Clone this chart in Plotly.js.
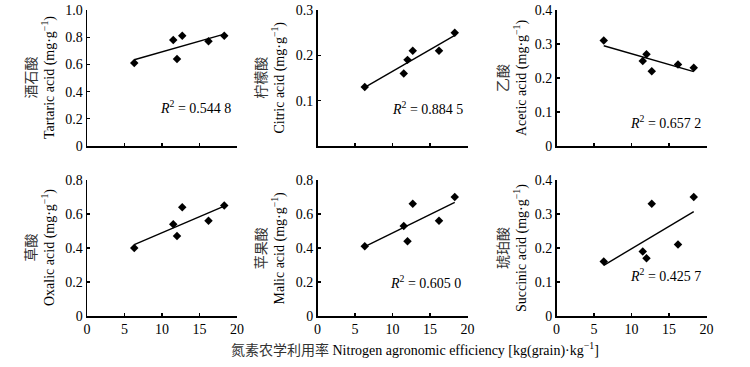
<!DOCTYPE html>
<html>
<head>
<meta charset="utf-8">
<script src="https://cdn.plot.ly/plotly-3.0.1.min.js"></script>
<style>html,body{margin:0;padding:0;background:#fff;}#chart{width:750px;height:367px;}</style>
</head>
<body>
<div id="chart"></div>
<script>
// Nitrogen agronomic efficiency (x) shared by all panels
const nae = [6.3, 11.5, 12.0, 12.7, 16.2, 18.3];

const tartaric = [0.61, 0.78, 0.64, 0.81, 0.77, 0.81];
const citric   = [0.13, 0.16, 0.19, 0.21, 0.21, 0.25];
const acetic   = [0.31, 0.25, 0.27, 0.22, 0.24, 0.23];
const oxalic   = [0.40, 0.54, 0.47, 0.64, 0.56, 0.65];
const malic    = [0.41, 0.53, 0.44, 0.66, 0.56, 0.70];
const succinic = [0.16, 0.19, 0.17, 0.33, 0.21, 0.35];

const panelNames = ["酒石酸", "柠檬酸", "乙酸", "草酸", "苹果酸", "琥珀酸"];
const panelEnglish = ["Tartaric acid", "Citric acid", "Acetic acid", "Oxalic acid", "Malic acid", "Succinic acid"];
const r2Labels = ["0.544 8", "0.884 5", "0.657 2", "0.655 1", "0.605 0", "0.425 7"];
const yMax = [1.0, 0.3, 0.4, 0.8, 0.8, 0.4];
const yTicks = [
  [0, 0.2, 0.4, 0.6, 0.8, 1.0],
  [0.1, 0.2, 0.3],
  [0, 0.1, 0.2, 0.3, 0.4],
  [0, 0.2, 0.4, 0.6, 0.8],
  [0, 0.2, 0.4, 0.6, 0.8],
  [0, 0.1, 0.2, 0.3, 0.4]
];
const yTickText = [
  ["0", "0.2", "0.4", "0.6", "0.8", "1.0"],
  ["0.1", "0.2", "0.3"],
  ["0", "0.1", "0.2", "0.3", "0.4"],
  ["0", "0.2", "0.4", "0.6", "0.8"],
  ["0", "0.2", "0.4", "0.6", "0.8"],
  ["0", "0.1", "0.2", "0.3", "0.4"]
];
const xTicks = [0, 5, 10, 15, 20];
const xTickText = ["0", "5", "10", "15", "20"];
const xTitle = "<span style='color:#333'>氮素农学利用率</span> Nitrogen agronomic efficiency [kg(grain)·kg<sup>−1</sup>]";

const series = [tartaric, citric, acetic, oxalic, malic, succinic];

// ---- layout geometry (pixels) ----
const W = 750, H = 367;
const colPx = [[87, 237], [317.5, 467.5], [556.5, 706.5]];
const rowPx = [[10, 146], [180, 316]];
const titleXPx = [41, 270.5, 513];
const r2Pos = [ // [x data (right anchor), y data]
  [19.5, 0.287], [19.6, 0.084], [19.5, 0.071],
  [20.7, 0.29], [19.4, 0.2], [19.5, 0.12]
];

const FONT = "Liberation Serif, Times New Roman, Noto Sans CJK SC, serif";

function fit(x, y) {
  const n = x.length;
  const mx = x.reduce((a, b) => a + b, 0) / n;
  const my = y.reduce((a, b) => a + b, 0) / n;
  let sxy = 0, sxx = 0;
  for (let i = 0; i < n; i++) { sxy += (x[i] - mx) * (y[i] - my); sxx += (x[i] - mx) ** 2; }
  const b = sxy / sxx, a = my - b * mx;
  const x0 = Math.min(...x), x1 = Math.max(...x);
  return { x: [x0, x1], y: [a + b * x0, a + b * x1] };
}

const data = [];
const layout = {
  width: W, height: H,
  margin: { l: 0, r: 0, t: 0, b: 0 },
  paper_bgcolor: "#fff", plot_bgcolor: "#fff",
  showlegend: false,
  font: { family: FONT, color: "#000", size: 14 },
  annotations: []
};

for (let i = 0; i < 6; i++) {
  const row = Math.floor(i / 3), col = i % 3;
  const k = i + 1;
  const xa = k === 1 ? "x" : "x" + k;
  const ya = k === 1 ? "y" : "y" + k;
  const f = fit(nae, series[i]);
  data.push({
    x: f.x, y: f.y, xaxis: xa, yaxis: ya, mode: "lines", type: "scatter",
    line: { color: "#000", width: 1.4 }, hoverinfo: "skip"
  });
  data.push({
    x: nae, y: series[i], xaxis: xa, yaxis: ya, mode: "markers", type: "scatter",
    marker: { symbol: "diamond", size: 6.5, color: "#000" }
  });
  const axCommon = {
    showline: true, linecolor: "#000", linewidth: 1.5, showgrid: false, zeroline: false,
    ticks: "inside", ticklen: 3, tickwidth: 1.2, tickcolor: "#000",
    tickfont: { family: FONT, size: 14, color: "#000" }, fixedrange: true
  };
  layout["xaxis" + (k === 1 ? "" : k)] = Object.assign({}, axCommon, {
    domain: [colPx[col][0] / W, colPx[col][1] / W],
    anchor: ya, range: [0, 20],
    tickmode: "array", tickvals: xTicks, ticktext: xTickText,
    showticklabels: row === 1
  });
  layout["yaxis" + (k === 1 ? "" : k)] = Object.assign({}, axCommon, {
    domain: [1 - rowPx[row][1] / H, 1 - rowPx[row][0] / H],
    anchor: xa, range: [0, yMax[i]],
    tickmode: "array", tickvals: yTicks[i], ticktext: yTickText[i]
  });
  // y title (two lines, rotated)
  layout.annotations.push({
    xref: "paper", yref: "paper",
    x: titleXPx[col] / W, y: 1 - (rowPx[row][0] + rowPx[row][1]) / 2 / H,
    xanchor: "center", yanchor: "middle", textangle: -90, showarrow: false,
    text: "<span style='color:#333'>" + panelNames[i] + "</span><br>" + panelEnglish[i] + " (mg·g<sup>−1</sup>)",
    font: { family: FONT, size: 14, color: "#000" }
  });
  // R² label
  layout.annotations.push({
    xref: xa, yref: ya, x: r2Pos[i][0], y: r2Pos[i][1],
    xanchor: "right", yanchor: "middle", showarrow: false,
    text: "<i>R</i><sup>2</sup> = " + r2Labels[i],
    font: { family: FONT, size: 14, color: "#000" }
  });
}
layout.annotations.push({
  xref: "paper", yref: "paper", x: 415 / W, y: 1 - 349 / H,
  xanchor: "center", yanchor: "middle", showarrow: false,
  text: xTitle, font: { family: FONT, size: 14, color: "#000" }
});

Plotly.newPlot("chart", data, layout, { displayModeBar: false, staticPlot: true });
</script>
</body>
</html>
